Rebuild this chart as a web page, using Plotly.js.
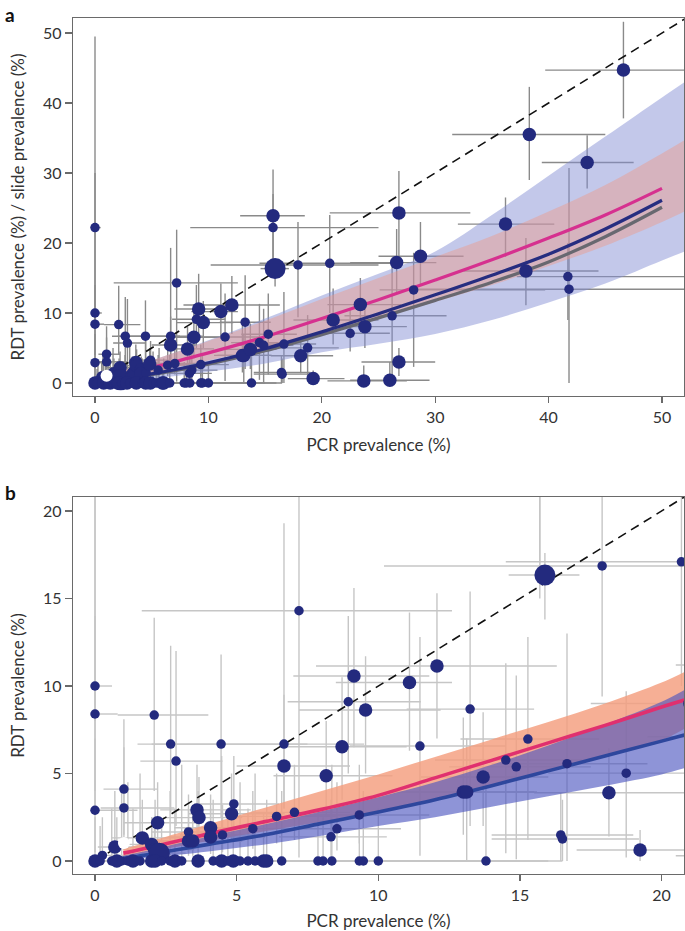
<!DOCTYPE html>
<html>
<head>
<meta charset="utf-8">
<script src="https://cdn.plot.ly/plotly-3.0.1.min.js"></script>
<style>html,body{margin:0;padding:0;background:#fff;}#chart{width:685px;height:931px;}</style>
</head>
<body>
<div id="chart"></div>
<script>
// ---- Sites with RDT / slide prevalence > 0 ----
const sitePcr = [0, 0, 0, 0, 0.26, 0.7, 1.02, 1.02, 1.67, 2.09, 2.21, 2.0, 2.1, 2.27, 2.67, 2.86, 3.3, 3.3, 3.45, 3.6, 3.67, 4.08, 4.08, 4.45, 4.5, 4.9, 4.82, 5.57, 6.41, 6.67, 6.67, 7.04, 7.2, 8.16, 8.72, 8.33, 8.54, 9.33, 8.94, 9.14, 9.55, 11.1, 12.07, 11.47, 13.24, 13.0, 13.12, 13.7, 14.5, 14.87, 15.28, 15.88, 15.7, 15.7, 16.66, 16.44, 16.5, 17.9, 18.14, 18.75, 19.24, 20.7, 21.0, 22.5, 23.4, 23.8, 23.7, 26.0, 26.2, 26.6, 26.8, 26.8, 28.1, 28.7, 36.2, 38.0, 38.3, 41.7, 41.8, 43.4, 46.6];
const siteRdt = [10.0, 22.2, 8.4, 2.9, 0.32, 0.8, 4.11, 3.03, 1.32, 8.34, 2.19, 0.95, 0.65, 0.45, 6.68, 5.71, 1.66, 1.14, 1.14, 2.92, 2.48, 1.9, 1.37, 6.68, 1.49, 3.26, 2.7, 1.85, 2.55, 6.68, 5.43, 2.78, 14.3, 4.87, 6.53, 1.38, 1.84, 2.63, 9.1, 10.57, 8.63, 10.2, 11.14, 6.57, 8.68, 3.94, 3.94, 4.8, 5.77, 5.38, 6.97, 16.34, 23.9, 22.2, 5.56, 1.49, 1.26, 16.86, 3.9, 5.02, 0.63, 17.1, 9.0, 7.1, 11.2, 8.05, 0.3, 0.4, 9.6, 17.2, 24.3, 3.0, 13.3, 18.1, 22.7, 16.0, 35.5, 15.2, 13.4, 31.5, 44.7];
const siteWeight = [1, 1, 1, 1, 1, 2, 1, 1, 2, 1, 2, 2, 2, 3, 1, 1, 1, 2, 2, 2, 2, 2, 2, 1, 1, 1, 2, 1, 1, 1, 2, 1, 1, 2, 2, 1, 1, 1, 1, 2, 2, 2, 2, 1, 1, 2, 2, 2, 1, 1, 1, 3, 2, 1, 1, 1, 1, 1, 2, 1, 2, 1, 2, 1, 2, 2, 2, 2, 1, 2, 2, 2, 1, 2, 2, 2, 2, 1, 1, 2, 2];
const sitePcrLo = [0, 0, 0, 0, 0, 0.1, 0.3, 0.2, 0.6, 0.8, 1.0, 1.2, 1.0, 1.5, 1.5, 1.6, 2.0, 2.0, 2.2, 2.3, 2.4, 2.8, 2.6, 2.0, 3.0, 3.5, 3.3, 4.0, 4.8, 4.5, 5.0, 5.5, 1.65, 6.3, 6.8, 6.5, 6.7, 7.2, 6.8, 7.0, 7.2, 8.5, 7.8, 9.0, 11.0, 10.5, 10.8, 11.5, 12.0, 12.5, 12.9, 14.6, 12.8, 8.4, 14.0, 14.0, 14.0, 10.2, 15.5, 16.0, 17.0, 14.5, 17.5, 19.5, 20.5, 21.0, 20.5, 22.5, 22.0, 22.5, 20.7, 23.5, 25.1, 25.0, 32.0, 32.5, 31.5, 37.2, 28.0, 39.4, 39.7];
const sitePcrHi = [0.6, 0.5, 0.8, 1.5, 1.2, 2.5, 2.2, 2.8, 3.2, 4.0, 3.8, 3.2, 3.5, 3.2, 4.5, 4.5, 4.8, 5.0, 5.2, 5.5, 5.2, 5.6, 6.0, 7.5, 6.0, 6.5, 6.7, 7.5, 8.5, 9.5, 9.0, 9.0, 12.6, 10.5, 11.0, 10.3, 10.8, 11.8, 11.5, 11.8, 12.2, 12.6, 16.3, 14.5, 15.5, 15.5, 15.6, 16.0, 17.2, 17.5, 17.8, 17.1, 18.5, 25.0, 19.5, 19.0, 19.2, 25.0, 21.0, 21.5, 22.0, 27.0, 25.0, 26.0, 27.0, 27.5, 27.5, 29.5, 31.0, 30.1, 33.1, 30.0, 39.7, 32.5, 40.5, 44.4, 45.0, 55.0, 55.0, 47.5, 55.0];
const siteRdtLo = [4.0, 8.0, 3.0, 0.5, 0, 0, 1.5, 0.8, 0.3, 4.0, 0.9, 0.2, 0.1, 0.1, 2.8, 2.0, 0.5, 0.3, 0.3, 1.2, 1.0, 0.8, 0.4, 2.5, 0.5, 1.2, 1.2, 0.7, 1.0, 3.0, 3.0, 1.2, 0.2, 2.5, 3.5, 0.3, 0.6, 1.0, 5.0, 6.5, 5.0, 6.3, 7.0, 0.3, 2.0, 1.5, 0, 2.0, 0.45, 0.1, 1.2, 13.8, 17.0, 15.0, 0, 0, 0, 9.4, 1.4, 0.2, 0, 10.0, 5.5, 4.5, 7.5, 5.0, 0, 0, 0, 13.0, 17.0, 1.0, 2.3, 14.0, 18.0, 11.1, 29.0, 9.0, 0, 27.8, 37.8];
const siteRdtHi = [30, 49.5, 14.0, 7.0, 2.5, 4.0, 8.1, 6.5, 3.5, 13.9, 4.5, 2.5, 2.0, 1.2, 12.3, 12.0, 3.8, 3.0, 3.2, 5.5, 4.8, 3.8, 3.0, 11.8, 3.2, 6.0, 5.0, 4.0, 5.0, 19.3, 9.5, 5.5, 21.9, 8.0, 10.5, 3.5, 4.5, 5.5, 14.0, 15.6, 11.7, 14.2, 15.3, 12.8, 15.4, 8.2, 7.0, 8.5, 11.3, 10.6, 12.8, 17.6, 30.5, 27.0, 13.0, 3.9, 3.5, 23.0, 6.45, 9.7, 1.77, 24.0, 13.5, 10.5, 15.0, 11.5, 2.5, 3.0, 17.0, 22.0, 30.3, 5.0, 18.6, 23.0, 26.5, 20.7, 42.3, 20.0, 30.7, 35.4, 51.6];

// ---- Sites with RDT / slide prevalence = 0 ----
const zeroPcr = [0, 0.18, 0.59, 0.77, 0.94, 1.16, 1.34, 1.59, 2.0, 2.12, 2.35, 2.65, 2.82, 3.06, 3.64, 4.17, 4.47, 4.69, 4.88, 5.12, 5.4, 5.65, 5.95, 6.06, 6.59, 7.87, 8.05, 8.36, 9.33, 9.47, 10.0, 13.8];
const zeroWeight = [2, 1, 1, 2, 1, 1, 2, 1, 2, 2, 1, 1, 2, 1, 2, 1, 2, 1, 2, 1, 1, 1, 2, 2, 1, 1, 1, 1, 1, 1, 1, 1];
const zeroPcrLo = [0, 0, 0, 0.1, 0.2, 0.3, 0.4, 0.5, 0.8, 0.7, 0.9, 1.0, 1.2, 1.4, 1.8, 2.2, 2.4, 2.6, 3.0, 3.2, 3.3, 3.6, 3.8, 4.0, 4.5, 5.5, 5.8, 6.0, 7.0, 7.2, 7.5, 11.5];
const zeroPcrHi = [1.5, 1.5, 3.0, 2.6, 3.5, 4.5, 3.0, 5.5, 4.0, 6.0, 4.5, 7.0, 5.0, 6.5, 6.0, 7.5, 8.0, 7.0, 9.0, 8.5, 9.0, 10.0, 9.5, 12.0, 11.0, 12.5, 13.0, 13.5, 14.0, 15.0, 16.0, 16.5];
const zeroRdtHi = [2.5, 2.0, 3.0, 2.5, 4.0, 4.5, 3.0, 5.0, 2.5, 3.5, 2.2, 4.0, 3.0, 5.5, 4.0, 3.5, 6.0, 3.0, 2.5, 4.5, 3.0, 5.0, 2.8, 3.5, 4.0, 3.0, 2.5, 5.5, 3.0, 4.0, 3.0, 5.0];

// ---- Highlighted site (white) ----
const whitePcr = [1.02];
const whiteRdt = [1.03];

// ---- Panel a fitted curves ----
const fitAx = [1, 5, 10, 15, 20, 25, 30, 35, 40, 45, 50];
const fitAPink = [0.55, 2.2, 4.3, 6.6, 9.2, 11.9, 14.7, 17.6, 20.7, 24.0, 27.8];
const fitANavy = [0.25, 1.3, 2.9, 4.9, 7.3, 9.9, 12.6, 15.4, 18.4, 22.0, 26.1];
const fitAGray = [0.2, 1.2, 2.7, 4.6, 6.9, 9.3, 11.8, 14.4, 17.3, 20.9, 25.1];
const bandAx = [1, 5, 10, 15, 20, 25, 30, 35, 40, 45, 50, 52];
const bandABlueLo = [0.1, 0.6, 1.6, 2.8, 4.4, 5.6, 7.0, 9.0, 11.5, 14.2, 17.5, 18.8];
const bandABlueHi = [1.0, 3.2, 6.1, 9.2, 12.5, 15.6, 18.8, 24.0, 29.6, 35.2, 40.8, 43.0];
const bandASalmonLo = [0.35, 1.5, 3.2, 5.0, 7.0, 9.2, 11.6, 14.0, 16.7, 19.6, 23.0, 24.5];
const bandASalmonHi = [0.9, 3.2, 6.0, 8.9, 12.0, 15.0, 18.0, 21.0, 24.5, 28.3, 32.8, 34.7];

// ---- Panel b fitted curves ----
const fitBx = [1, 2, 4, 6, 8, 10, 12, 14, 16, 18, 20, 20.8];
const fitBPink = [0.45, 0.8, 1.55, 2.25, 2.95, 3.75, 4.75, 5.75, 6.75, 7.75, 8.8, 9.2];
const fitBBlue = [0.15, 0.4, 0.95, 1.5, 2.15, 2.8, 3.5, 4.3, 5.15, 6.0, 6.85, 7.2];
const bandBSalmonLo = [0.25, 0.55, 1.15, 1.7, 2.25, 2.85, 3.55, 4.3, 5.1, 5.95, 6.9, 7.55];
const bandBSalmonHi = [0.7, 1.15, 2.1, 3.05, 4.0, 4.95, 5.95, 6.95, 7.95, 9.0, 10.2, 10.8];
const bandBBlueLo = [0.05, 0.2, 0.55, 0.95, 1.45, 2.0, 2.5, 3.1, 3.7, 4.3, 4.95, 5.3];
const bandBBlueHi = [0.3, 0.65, 1.4, 2.1, 2.85, 3.65, 4.5, 5.5, 6.6, 7.8, 9.1, 9.77];

// identity reference line
const identity = [0, 60];

// ---- assemble ----
const allPcr = sitePcr.concat(zeroPcr);
const allRdt = siteRdt.concat(zeroPcr.map(() => 0));
const allW = siteWeight.concat(zeroWeight);
const allPcrLo = sitePcrLo.concat(zeroPcrLo);
const allPcrHi = sitePcrHi.concat(zeroPcrHi);
const allRdtLo = siteRdtLo.concat(zeroPcr.map(() => 0));
const allRdtHi = siteRdtHi.concat(zeroRdtHi);
const markerPx = {1: 9.5, 2: 13.5, 3: 21};
const sizes = allW.map(w => markerPx[w]);
const exPlus = allPcrHi.map((h, i) => Math.max(0, h - allPcr[i]));
const exMinus = allPcrLo.map((l, i) => Math.max(0, allPcr[i] - l));
const eyPlus = allRdtHi.map((h, i) => Math.max(0, h - allRdt[i]));
const eyMinus = allRdtLo.map((l, i) => Math.max(0, allRdt[i] - l));

const NAVY = '#232a7e';

function errTrace(xa, ya, color) {
  return {x: allPcr, y: allRdt, xaxis: xa, yaxis: ya, type: 'scatter', mode: 'markers',
    marker: {size: 2, color: 'rgba(0,0,0,0)'}, hoverinfo: 'skip',
    error_x: {type: 'data', symmetric: false, array: exPlus, arrayminus: exMinus, color: color, thickness: 1.4, width: 0},
    error_y: {type: 'data', symmetric: false, array: eyPlus, arrayminus: eyMinus, color: color, thickness: 1.4, width: 0}};
}
function band(xs, lo, hi, xa, ya, fill) {
  return [
    {x: xs, y: lo, xaxis: xa, yaxis: ya, type: 'scatter', mode: 'lines', line: {width: 0, shape: 'spline'}, hoverinfo: 'skip'},
    {x: xs, y: hi, xaxis: xa, yaxis: ya, type: 'scatter', mode: 'lines', line: {width: 0, shape: 'spline'}, fill: 'tonexty', fillcolor: fill, hoverinfo: 'skip'}
  ];
}
function curve(xs, ys, xa, ya, color, w) {
  return {x: xs, y: ys, xaxis: xa, yaxis: ya, type: 'scatter', mode: 'lines', line: {color: color, width: w, shape: 'spline'}};
}
function dashed(xa, ya) {
  return {x: identity, y: identity, xaxis: xa, yaxis: ya, type: 'scatter', mode: 'lines', line: {color: '#111', width: 1.6, dash: '9px,6px'}};
}
function pts(xa, ya) {
  return {x: allPcr, y: allRdt, xaxis: xa, yaxis: ya, type: 'scatter', mode: 'markers',
    marker: {size: sizes, color: NAVY, opacity: 1, line: {width: 0}}};
}
function whitePt(xa, ya) {
  return {x: whitePcr, y: whiteRdt, xaxis: xa, yaxis: ya, type: 'scatter', mode: 'markers',
    marker: {size: 12, color: '#ffffff', opacity: 1, line: {width: 0}}};
}

const data = [].concat(
  [errTrace('x', 'y', '#8a8a8a')],
  band(bandAx, bandABlueLo, bandABlueHi, 'x', 'y', 'rgba(130,140,212,0.48)'),
  band(bandAx, bandASalmonLo, bandASalmonHi, 'x', 'y', 'rgba(240,150,128,0.42)'),
  [curve(fitAx, fitAGray, 'x', 'y', '#686870', 3.2),
   curve(fitAx, fitANavy, 'x', 'y', '#262d80', 3.2),
   curve(fitAx, fitAPink, 'x', 'y', '#d6308f', 3.2),
   dashed('x', 'y'), pts('x', 'y'), whitePt('x', 'y')],
  [errTrace('x2', 'y2', '#c6c6c6')],
  band(fitBx, bandBSalmonLo, bandBSalmonHi, 'x2', 'y2', 'rgba(244,158,126,0.82)'),
  band(fitBx, bandBBlueLo, bandBBlueHi, 'x2', 'y2', 'rgba(72,82,190,0.62)'),
  [curve(fitBx, fitBBlue, 'x2', 'y2', '#2e479d', 3.6),
   curve(fitBx, fitBPink, 'x2', 'y2', '#e0306f', 3.6),
   dashed('x2', 'y2'), pts('x2', 'y2'), whitePt('x2', 'y2')]
);

const axisBase = {showline: true, linecolor: '#6a6a6a', linewidth: 1.3, mirror: true, ticks: 'outside',
  tickcolor: '#6a6a6a', tickwidth: 1.3, showgrid: false, zeroline: false,
  tickfont: {size: 16, color: '#333'}};
const titleFont = {size: 17, color: '#333'};

const layout = {
  width: 685, height: 931,
  margin: {l: 73, r: 1, t: 18, b: 57},
  paper_bgcolor: '#ffffff', plot_bgcolor: '#ffffff',
  showlegend: false,
  font: {family: 'Lato, "Open Sans", "DejaVu Sans", sans-serif', color: '#333'},
  xaxis: Object.assign({}, axisBase, {domain: [0, 1], anchor: 'y', range: [-1.94, 51.94], tickvals: [0, 10, 20, 30, 40, 50], ticklen: 6,
    title: {text: 'PCR prevalence (%)', font: titleFont, standoff: 14}}),
  yaxis: Object.assign({}, axisBase, {domain: [0.5584, 1], anchor: 'x', range: [-1.86, 52.14], tickvals: [0, 10, 20, 30, 40, 50], ticklen: 7,
    title: {text: 'RDT prevalence (%) / slide prevalence (%)', font: titleFont, standoff: 14}}),
  xaxis2: Object.assign({}, axisBase, {domain: [0, 1], anchor: 'y2', range: [-0.777, 20.79], tickvals: [0, 5, 10, 15, 20], ticklen: 6,
    title: {text: 'PCR prevalence (%)', font: titleFont, standoff: 12}}),
  yaxis2: Object.assign({}, axisBase, {domain: [0, 0.4404], anchor: 'x2', range: [-0.743, 20.8], tickvals: [0, 5, 10, 15, 20], ticklen: 7,
    title: {text: 'RDT prevalence (%)', font: titleFont, standoff: 14}}),
  annotations: [
    {text: '<b>a</b>', xref: 'paper', yref: 'paper', x: -0.1146, y: 1.0195, xanchor: 'left', yanchor: 'top', showarrow: false, font: {size: 19, color: '#111'}},
    {text: '<b>b</b>', xref: 'paper', yref: 'paper', x: -0.1146, y: 0.4615, xanchor: 'left', yanchor: 'top', showarrow: false, font: {size: 19, color: '#111'}}
  ]
};

Plotly.newPlot('chart', data, layout, {displayModeBar: false, staticPlot: true});
</script>
</body>
</html>
